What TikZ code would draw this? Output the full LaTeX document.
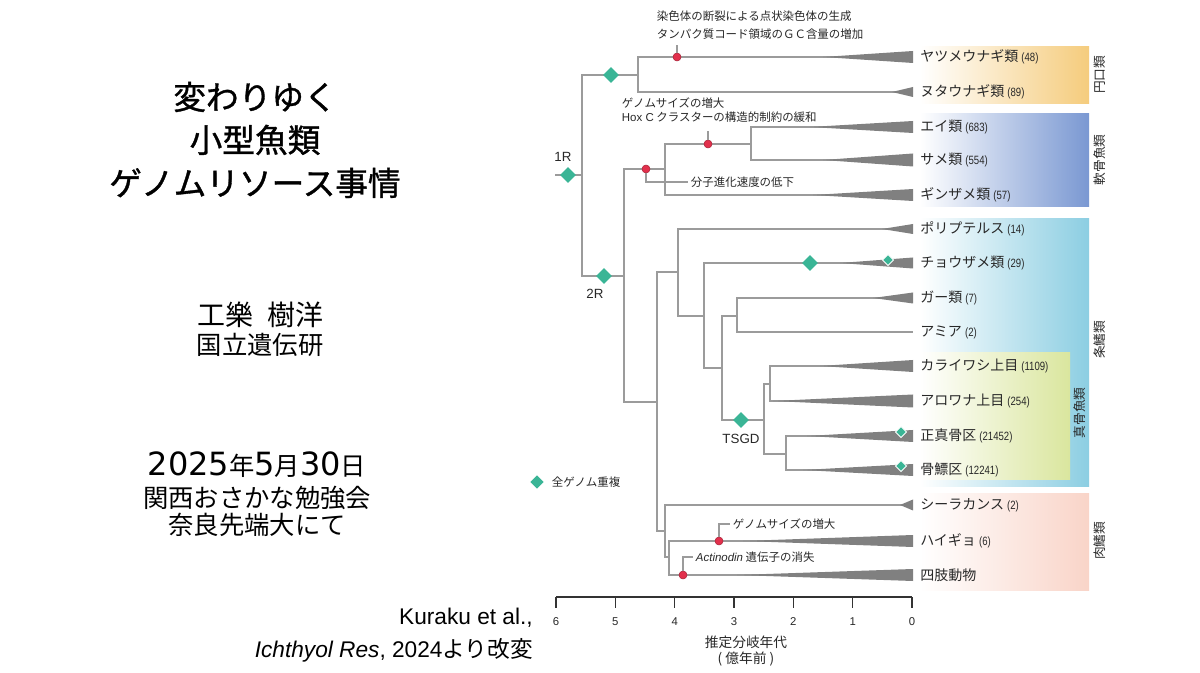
\documentclass[tikz,border=0pt]{standalone}
\usepackage{fontspec}
\setmainfont{Noto Sans CJK JP}
\newfontfamily\jpfont{Noto Sans CJK JP}
\newfontfamily\titlefont[FakeBold=1.1]{Noto Sans CJK JP}
\newfontfamily\latinfont{Liberation Sans}
\newfontfamily\countfont[FakeStretch=0.8]{Liberation Sans}
\newfontfamily\datefont{DejaVu Sans}
\usetikzlibrary{shapes.geometric}

\definecolor{branchgray}{RGB}{155,155,155}
\definecolor{wedgegray}{RGB}{128,128,128}
\definecolor{eventred}{RGB}{226,48,76}
\definecolor{wgdgreen}{RGB}{58,181,150}
\definecolor{cycorange}{RGB}{245,204,125}
\definecolor{chonblue}{RGB}{122,152,210}
\definecolor{actcyan}{RGB}{140,206,226}
\definecolor{telgreen}{RGB}{218,230,158}
\definecolor{sarpink}{RGB}{249,212,200}
\definecolor{txtgray}{RGB}{40,40,40}

\tikzset{
  branch/.style={draw=branchgray, line width=0.9pt},
  wedgefill/.style={fill=wedgegray},
  axis/.style={draw=black!80, line width=1.1pt},
  event/.style={circle, fill=eventred, draw=eventred!75!black, line width=0.4pt, inner sep=0pt, minimum size=6pt},
  wgd/.style={diamond, fill=wgdgreen, inner sep=0pt, minimum size=12pt},
  smallwgd/.style={wgd, draw=white, line width=0.6pt, minimum size=8.5pt},
  leaf/.style={anchor=west, inner xsep=5.25pt, inner ysep=0pt, text=txtgray, font=\fontsize{10.5}{12}\selectfont},
  note/.style={anchor=west, inner xsep=2pt, inner ysep=1pt, text=txtgray, font=\fontsize{8.6}{10}\selectfont},
  grouplabel/.style={rotate=90, text=txtgray, font=\fontsize{9.5}{11}\selectfont},
  duplab/.style={text=txtgray, font=\latinfont\fontsize{10}{12}\selectfont},
  ticklab/.style={text=txtgray, font=\latinfont\fontsize{8.5}{10}\selectfont},
  axtitle/.style={text=txtgray, font=\fontsize{10.3}{12}\selectfont},
  title/.style={align=center, font=\titlefont\fontsize{24.5}{32.25}\selectfont},
  speaker/.style={font=\fontsize{21}{24}\selectfont},
  venue/.style={font=\fontsize{19}{22}\selectfont},
  cite/.style={anchor=east, inner sep=0pt, font=\latinfont\fontsize{17}{20}\selectfont}
}

\newcommand\nsp[1]{{\countfont\fontsize{9}{10}\selectfont #1}}
\newcommand\clade[3]{\fill[wedgefill] (#1) ++(-#2,0) -- ++(#2,-#3) -- ++(0,2*#3) -- cycle;}

\begin{document}
\begin{tikzpicture}[x=0.75pt, y=-0.75pt]
\useasboundingbox (0,0) rectangle (1200,673);
\fill[white] (0,0) rectangle (1200,673);

% left side
\node[title] (title) at (255,140) {変わりゆく\\小型魚類\\ゲノムリソース事情};
\node[speaker] (name) at (260,315) {工樂\enspace 樹洋};
\node[venue] (affil) at (260,345) {国立遺伝研};
\node[venue] (date) at (257,465) {{\datefont\fontsize{24}{26}\selectfont 2025}年{\datefont\fontsize{24}{26}\selectfont 5}月{\datefont\fontsize{24}{26}\selectfont 30}日};
\node[venue] (meeting) at (257,498) {関西おさかな勉強会};
\node[venue] (place) at (257,525) {奈良先端大にて};
\node[cite] (cite1) at (533,618) {Kuraku et al.,};
\node[cite] (cite2) at (533,650) {{\itshape Ichthyol Res}, 2024{\jpfont より改変}};

% clade boxes
\shade[left color=white, right color=cycorange] (920,47) rectangle (1089,104);
\shade[left color=white, right color=chonblue] (920,114) rectangle (1089,207);
\shade[left color=white, right color=actcyan] (920,219) rectangle (1089,487);
\shade[left color=white, right color=telgreen] (920,353) rectangle (1070,480);
\shade[left color=white, right color=sarpink] (920,494) rectangle (1089,590);
\node[grouplabel] (cyclo) at (1100,75) {円口類};
\node[grouplabel] (chondr) at (1100,160) {軟骨魚類};
\node[grouplabel] (actino) at (1100,340) {条鰭類};
\node[grouplabel] (teleo) at (1080,413) {真骨魚類};
\node[grouplabel] (sarco) at (1100,541) {肉鰭類};

% leaves
\node[leaf] (lamprey) at (913,57) {ヤツメウナギ類 \nsp{(48)}};
\node[leaf] (hagfish) at (913,92) {ヌタウナギ類 \nsp{(89)}};
\node[leaf] (ray) at (913,127) {エイ類 \nsp{(683)}};
\node[leaf] (shark) at (913,160) {サメ類 \nsp{(554)}};
\node[leaf] (chimaera) at (913,195) {ギンザメ類 \nsp{(57)}};
\node[leaf] (bichir) at (913,229) {ポリプテルス \nsp{(14)}};
\node[leaf] (sturgeon) at (913,263) {チョウザメ類 \nsp{(29)}};
\node[leaf] (gar) at (913,298) {ガー類 \nsp{(7)}};
\node[leaf] (bowfin) at (913,332) {アミア \nsp{(2)}};
\node[leaf] (elopo) at (913,366) {カライワシ上目 \nsp{(1109)}};
\node[leaf] (osteo) at (913,401) {アロワナ上目 \nsp{(254)}};
\node[leaf] (eutel) at (913,436) {正真骨区 \nsp{(21452)}};
\node[leaf] (otomo) at (913,470) {骨鰾区 \nsp{(12241)}};
\node[leaf] (coel) at (913,505) {シーラカンス \nsp{(2)}};
\node[leaf] (lungfish) at (913,541) {ハイギョ \nsp{(6)}};
\node[leaf] (tetrapod) at (913,575) {四肢動物};

% internal nodes
\coordinate (root) at (555,175);
\coordinate (vert) at (582,175);
\coordinate (cyc) at (638,75);
\coordinate (gna) at (624,276);
\coordinate (chon) at (665,169);
\coordinate (ela) at (751,144);
\coordinate (ost) at (657,402);
\coordinate (act) at (678,272);
\coordinate (actp) at (704,316);
\coordinate (neo) at (722,368);
\coordinate (hol) at (737,316);
\coordinate (tel) at (764,420);
\coordinate (eo) at (770,384);
\coordinate (clu) at (786,454);
\coordinate (sar) at (665,531);
\coordinate (rhi) at (669,557);

% branches
\draw[branch] (root) -- (vert);
\draw[branch] (vert) |- (cyc) (vert) |- (gna);
\draw[branch] (cyc) |- (lamprey) (cyc) |- (hagfish);
\draw[branch] (gna) |- (chon) (gna) |- (ost);
\draw[branch] (chon) |- (ela) (chon) |- (chimaera);
\draw[branch] (ela) |- (ray) (ela) |- (shark);
\draw[branch] (ost) |- (act) (ost) |- (sar);
\draw[branch] (act) |- (bichir) (act) |- (actp);
\draw[branch] (actp) |- (sturgeon) (actp) |- (neo);
\draw[branch] (neo) |- (hol) (neo) |- (tel);
\draw[branch] (hol) |- (gar) (hol) |- (bowfin);
\draw[branch] (tel) |- (eo) (tel) |- (clu);
\draw[branch] (eo) |- (elopo) (eo) |- (osteo);
\draw[branch] (clu) |- (eutel) (clu) |- (otomo);
\draw[branch] (sar) |- (coel) (sar) |- (rhi);
\draw[branch] (rhi) |- (lungfish) (rhi) |- (tetrapod);

% wedges
\clade{lamprey.west}{90}{6}
\clade{hagfish.west}{21}{5}
\clade{ray.west}{103}{6}
\clade{shark.west}{90}{6.5}
\clade{chimaera.west}{100}{6}
\clade{bichir.west}{31}{5}
\clade{sturgeon.west}{73}{5.5}
\clade{gar.west}{40}{5.5}
\clade{elopo.west}{93}{6}
\clade{osteo.west}{140}{6.5}
\clade{eutel.west}{106}{6}
\clade{otomo.west}{110}{6}
\clade{coel.west}{13}{5.5}
\clade{lungfish.west}{170}{6}
\clade{tetrapod.west}{176}{6}

% genome duplications
\node[wgd] (oneR) at (568,175) {};
\node[duplab] (oneRlab) at (563,157) {1R};
\node[wgd] (cycwgd) at (611,75) {};
\node[wgd] (twoR) at (604,276) {};
\node[duplab] (twoRlab) at (595,294) {2R};
\node[wgd] (stwgd) at (810,263) {};
\node[wgd] (tsgd) at (741,420) {};
\node[duplab] (tsgdlab) at (741,439) {TSGD};
\node[smallwgd] (stwgd2) at (888,260) {};
\node[smallwgd] (eutwgd) at (901,432) {};
\node[smallwgd] (otowgd) at (901,466) {};
\node[wgd, minimum size=10pt] (legdia) at (537,482) {};
\node[note] (legtxt) at (549,482) {全ゲノム重複};

% events
\node[event] (evcyc) at (677,57) {};
\coordinate (cyctick) at (677,45);
\draw[branch] (evcyc) -- (cyctick);
\node[note] (chrtxt) at (654,16) {染色体の断裂による点状染色体の生成};
\node[note] (gctxt) at (654,34) {タンパク質コード領域のＧＣ含量の増加};

\node[event] (evela) at (708,144) {};
\coordinate (elatick) at (708,131);
\draw[branch] (evela) -- (elatick);
\node[note] (sizetxt) at (619,103) {ゲノムサイズの増大};
\node[note] (hoxtxt) at (619,117) {{\latinfont Hox C} クラスターの構造的制約の緩和};

\node[event] (evchon) at (646,169) {};
\node[note] (slowtxt) at (688,182) {分子進化速度の低下};
\draw[branch] (evchon) |- (slowtxt.west);

\node[event] (evlung) at (719,541) {};
\node[note] (lungtxt) at (730,524) {ゲノムサイズの増大};
\draw[branch] (evlung) |- (lungtxt.west);

\node[event] (evtet) at (683,575) {};
\node[note] (tettxt) at (693,557) {{\latinfont\itshape Actinodin} 遺伝子の消失};
\draw[branch] (evtet) |- (tettxt.west);

% time axis
\draw[axis] (556,597) -- (912,597);
\draw[axis] (556,597) -- (556,608) (615.3,597) -- (615.3,608) (674.7,597) -- (674.7,608)
  (734,597) -- (734,608) (793.3,597) -- (793.3,608) (852.7,597) -- (852.7,608) (912,597) -- (912,608);
\node[ticklab] (t6) at (556,622) {6};
\node[ticklab] (t5) at (615.3,622) {5};
\node[ticklab] (t4) at (674.7,622) {4};
\node[ticklab] (t3) at (734,622) {3};
\node[ticklab] (t2) at (793.3,622) {2};
\node[ticklab] (t1) at (852.7,622) {1};
\node[ticklab] (t0) at (912,622) {0};
\node[axtitle] (axname) at (746,642) {推定分岐年代};
\node[axtitle] (axunit) at (746,659) {( 億年前 )};
\end{tikzpicture}
\end{document}
